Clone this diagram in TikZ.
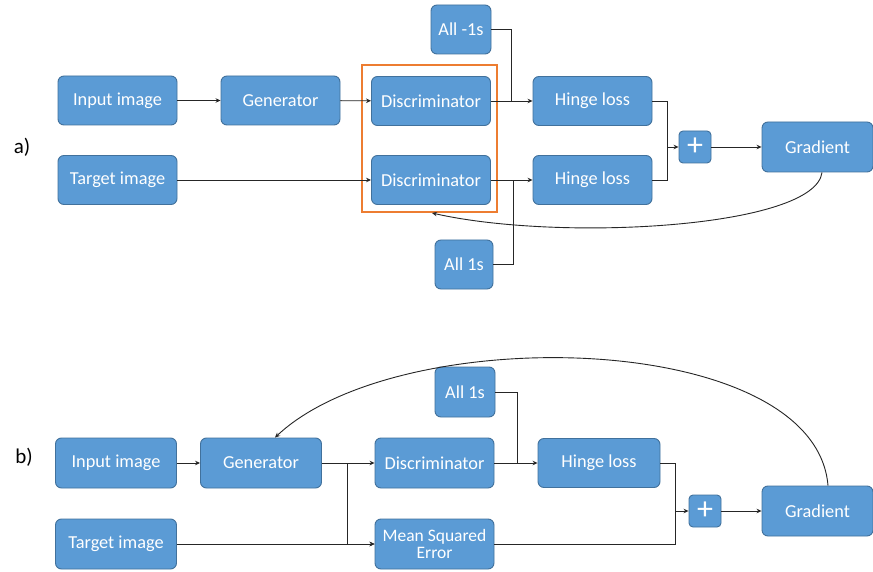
\documentclass[tikz,border=0pt]{standalone}
\usepackage{fontspec}
\setmainfont{Carlito}
\usetikzlibrary{arrows.meta}
\definecolor{boxfill}{HTML}{5B9BD5}
\definecolor{boxline}{HTML}{41719C}
\definecolor{orangebox}{HTML}{ED7D31}
\definecolor{wire}{HTML}{262626}
\tikzset{
  blk/.style={draw=boxline, fill=boxfill, line width=0.9pt, rounded corners=6pt,
    text=white, font=\fontsize{18.3}{19}\selectfont, align=center,
    minimum width=119pt, minimum height=49pt, inner sep=1pt},
  small/.style={blk, minimum width=60pt},
  plusbox/.style={blk, minimum width=32pt, minimum height=32pt, font=\fontsize{32}{32}\selectfont, rounded corners=4pt},
  grad/.style={blk, minimum width=111pt, minimum height=50pt},
  wirel/.style={draw=wire, line width=0.9pt},
  arr/.style={wirel, -{Stealth[length=5pt,width=4.5pt]}},
  lab/.style={font=\fontsize{21}{22}\selectfont, text=black}
}
\begin{document}
\begin{tikzpicture}[x=1pt,y=-1pt]
\useasboundingbox (0,0) rectangle (873,572);
\fill[white] (0,0) rectangle (873,572);

% ---------- a) ----------
\node[lab] (la) at (22,147) {a)};
\draw[orangebox, line width=1.2pt] (362,65) rectangle (497,212);
\node[blk] (in1) at (117.5,100.5) {Input image};
\node[blk] (gen1) at (280.5,100.5) {Generator};
\node[blk] (tgt1) at (117.5,180) {Target image};
\node[blk] (d1) at (431,101) {Discriminator};
\node[blk] (d2) at (431,180) {Discriminator};
\node[small] (am1) at (461,29.5) {All -1s};
\node[small, minimum width=58pt] (a1) at (464,264.5) {All 1s};
\node[blk] (h1) at (592.5,101) {Hinge loss};
\node[blk] (h2) at (592.5,180) {Hinge loss};
\node[plusbox] (p1) at (695,147) {+};
\node[grad] (g1) at (817.5,147) {Gradient};

\coordinate (j1) at (511,101);
\coordinate (j2) at (513,180);
\coordinate (jp1) at (667,147);
\coordinate (fb1) at (432,213);

\draw[arr] (in1) -- (gen1);
\draw[arr] (gen1) -- (d1);
\draw[arr] (tgt1) -- (d2);
\draw[arr] (d1) -- (h1);
\draw[arr] (d2) -- (h2);
\draw[wirel] (am1.east) -| (j1);
\draw[wirel] (a1.east) -| (j2);
\draw[wirel] (h1.east) -| (jp1);
\draw[wirel] (h2.east) -| (jp1);
\draw[arr] (jp1) -- (p1.west);
\draw[arr] (p1) -- (g1);
\draw[arr] ([xshift=4.5pt]g1.south) .. controls (815,228) and (560,242) .. (fb1);

% ---------- b) ----------
\node[lab] (lb) at (24,457) {b)};
\node[blk, minimum width=121pt, minimum height=50pt] (in2) at (116,463) {Input image};
\node[blk, minimum width=121pt, minimum height=50pt] (gen2) at (261,463) {Generator};
\node[blk, minimum width=121pt, minimum height=50pt] (tgt2) at (116,544) {Target image};
\node[blk, minimum height=50pt] (d3) at (434.5,463) {Discriminator};
\node[blk, minimum height=50pt, font=\fontsize{17.5}{17.5}\selectfont] (mse) at (434.5,544) {Mean Squared\\Error};
\node[small, minimum height=50pt] (a2) at (465,392) {All 1s};
\node[blk, minimum width=122pt] (h3) at (599,463) {Hinge loss};
\node[plusbox] (p2) at (705,511) {+};
\node[grad] (g2) at (817.5,511) {Gradient};

\coordinate (j3) at (347,463);
\coordinate (j4) at (517,463);
\coordinate (jp2) at (675,511);

\draw[arr] (in2) -- (gen2);
\draw[arr] (gen2) -- (d3);
\draw[arr] (j3) |- (mse.west);
\draw[arr] (tgt2) -- (mse);
\draw[wirel] (a2.east) -| (j4);
\draw[arr] (d3) -- (h3);
\draw[wirel] (h3.east) -| (jp2);
\draw[wirel] (mse.east) -| (jp2);
\draw[arr] (jp2) -- (p2.west);
\draw[arr] (p2) -- (g2);
\draw[arr] ([xshift=10.5pt]g2.north) .. controls (815,330) and (400,320) .. ([xshift=14pt]gen2.north);
\end{tikzpicture}
\end{document}
